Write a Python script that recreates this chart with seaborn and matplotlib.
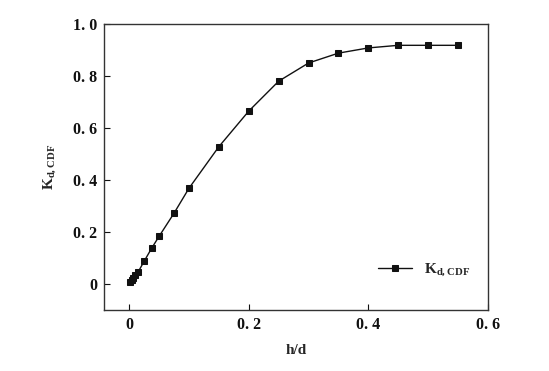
import matplotlib
matplotlib.use("Agg")
import matplotlib.pyplot as plt
import seaborn as sns
import pandas as pd

h_d = [0.002, 0.004, 0.006, 0.01, 0.015, 0.025, 0.0375, 0.05, 0.075, 0.1,
       0.15, 0.2, 0.25, 0.3, 0.35, 0.4, 0.45, 0.5, 0.55]
k_cdf = [0.008, 0.015, 0.022, 0.033, 0.046, 0.087, 0.137, 0.183, 0.272, 0.368,
         0.528, 0.665, 0.78, 0.85, 0.888, 0.908, 0.918, 0.918, 0.918]

sns.set_style("ticks")
plt.rcParams['font.family'] = ['Liberation Serif', 'DejaVu Serif']
plt.rcParams['font.weight'] = 'bold'
plt.rcParams['mathtext.fontset'] = 'custom'
plt.rcParams['mathtext.rm'] = 'Liberation Serif:bold'

df = pd.DataFrame({"h/d": h_d, "K": k_cdf})
fig = plt.figure(figsize=(5.49, 3.71), dpi=100)
ax = fig.add_axes([104/549, 1-310/371, (488-104)/549, (310-24)/371])
sns.lineplot(data=df, x="h/d", y="K", ax=ax, color="#111111", marker="s",
             markersize=5, markeredgecolor="#111111", linewidth=1,
             label=r"K$_{\mathregular{d, CDF}}$")
ax.set_xlim(-0.042, 0.6)
ax.set_ylim(-0.1, 1.0)
ax.set_xticks([0, 0.2, 0.4, 0.6])
ax.set_xticklabels(["0", "0. 2", "0. 4", "0. 6"])
ax.set_yticks([0, 0.2, 0.4, 0.6, 0.8, 1.0])
ax.set_yticklabels(["0", "0. 2", "0. 4", "0. 6", "0. 8", "1. 0"])
ax.tick_params(direction="in", length=4, width=0.8, labelsize=11.5, colors="#111111", pad=5)
for s in ax.spines.values():
    s.set_linewidth(1.0)
    s.set_color("#333333")
ax.set_xlabel("h/d", fontsize=11, fontweight="bold", labelpad=8)
ax.set_ylabel(r"K$_{\mathregular{d, CDF}}$", fontsize=11, fontweight="bold", labelpad=10)
ax.legend(loc="lower right", bbox_to_anchor=(0.99, 0.06), frameon=False,
          fontsize=11, handlelength=2.2, markerscale=0.9)
fig.savefig("out.png", dpi=100)
